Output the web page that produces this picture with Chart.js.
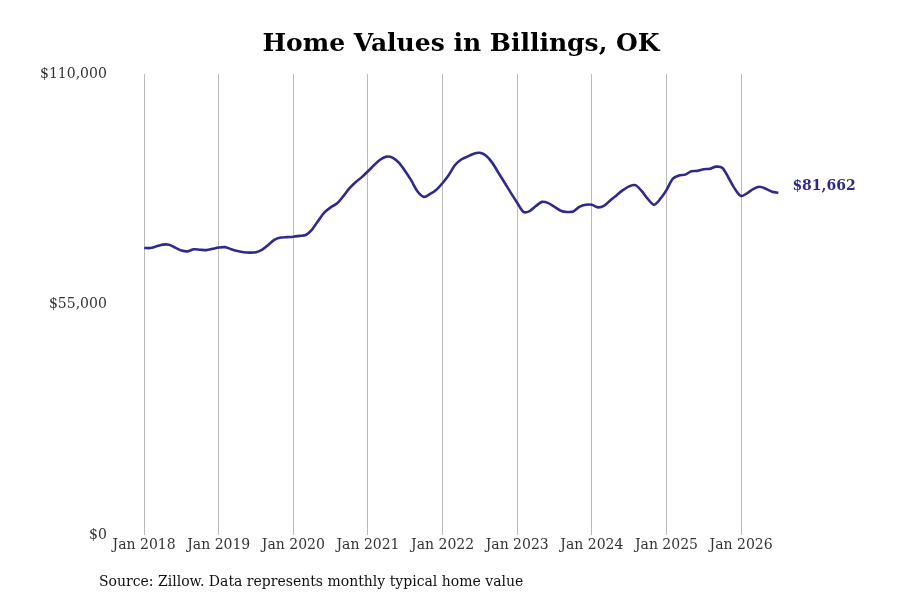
<!DOCTYPE html>
<html>
<head>
<meta charset="utf-8">
<script src="https://cdn.jsdelivr.net/npm/chart.js@4.4.1/dist/chart.umd.min.js"></script>
<style>
  html, body { margin: 0; padding: 0; background: #fff; }
  #wrap { position: relative; width: 900px; height: 600px; }
  #source {
    position: absolute; left: 99px; top: 573px;
    font-family: "DejaVu Serif", serif;
    font-size: 14px; color: #111;
  }
</style>
</head>
<body>
<div id="wrap">
  <canvas id="chart" width="900" height="600"></canvas>
  <div id="source">Source: Zillow. Data represents monthly typical home value</div>
</div>
<script>
// monthly typical home value, Jan 2018 .. Jul 2026
const startYear = 2018;
const homeValues = [
  68500, 68500, 68900, 69300, 69300, 68600, 67900, 67700, 68200, 68100, 68000, 68300,
  68600, 68700, 68200, 67800, 67500, 67400, 67500, 68100, 69300, 70500, 71000, 71100,
  71200, 71400, 71600, 72900, 75000, 77000, 78200, 79100, 80800, 82700, 84200, 85400,
  86800, 88300, 89600, 90300, 90000, 88800, 86800, 84500, 81900, 80700, 81400, 82400,
  84000, 85900, 88300, 89600, 90300, 91000, 91200, 90500, 88800, 86400, 84000, 81600,
  79300, 77100, 77300, 78500, 79500, 79200, 78300, 77400, 77100, 77200, 78300, 78800,
  78800, 78200, 78600, 79900, 81100, 82300, 83200, 83500, 82100, 80200, 78800, 80200,
  82300, 85000, 85800, 86000, 86800, 86900, 87300, 87400, 87900, 87600, 85200, 82600,
  80900, 81600, 82600, 83100, 82600, 81900, 81662
];
const yearTicks = [0, 12, 24, 36, 48, 60, 72, 84, 96];
const valueTicks = [0, 55000, 110000];

const lineColor = '#2e2a8c';
const serif = '"DejaVu Serif", serif';

const points = homeValues.map((v, i) => ({ x: i, y: v }));

const money = v => '$' + Math.round(v).toLocaleString('en-US');

const endLabel = {
  id: 'endLabel',
  afterDatasetsDraw(chart) {
    const meta = chart.getDatasetMeta(0);
    const last = meta.data[meta.data.length - 1];
    const ctx = chart.ctx;
    ctx.save();
    ctx.font = 'bold 14px ' + serif;
    ctx.fillStyle = lineColor;
    ctx.textBaseline = 'middle';
    ctx.fillText(money(homeValues[homeValues.length - 1]), last.x + 14, last.y - 6);
    ctx.restore();
  }
};

new Chart(document.getElementById('chart'), {
  type: 'line',
  data: {
    datasets: [{
      data: points,
      borderColor: lineColor,
      borderWidth: 2.6,
      pointRadius: 0,
      tension: 0.3,
      fill: false
    }]
  },
  options: {
    responsive: false,
    animation: false,
    layout: { padding: { left: 32, right: 10, top: 19, bottom: 44 } },
    plugins: {
      legend: { display: false },
      tooltip: { enabled: false },
      title: {
        display: true,
        text: 'Home Values in Billings, OK',
        color: '#000',
        font: { family: serif, size: 25, weight: 'bold' },
        padding: { top: 10, bottom: 15 }
      }
    },
    scales: {
      x: {
        type: 'linear',
        min: -3.43,
        max: 119.95,
        afterBuildTicks: axis => { axis.ticks = yearTicks.map(v => ({ value: v })); },
        ticks: {
          color: '#333',
          font: { family: serif, size: 14 },
          maxRotation: 0,
          padding: 2,
          callback: v => 'Jan ' + (startYear + v / 12)
        },
        grid: { color: '#bbb', drawTicks: false, lineWidth: 1 },
        border: { display: false }
      },
      y: {
        min: 0,
        max: 110000,
        afterBuildTicks: axis => { axis.ticks = valueTicks.map(v => ({ value: v })); },
        ticks: {
          color: '#333',
          font: { family: serif, size: 14 },
          padding: 8,
          callback: v => money(v)
        },
        grid: { display: false },
        border: { display: false }
      }
    }
  },
  plugins: [endLabel]
});
</script>
</body>
</html>
